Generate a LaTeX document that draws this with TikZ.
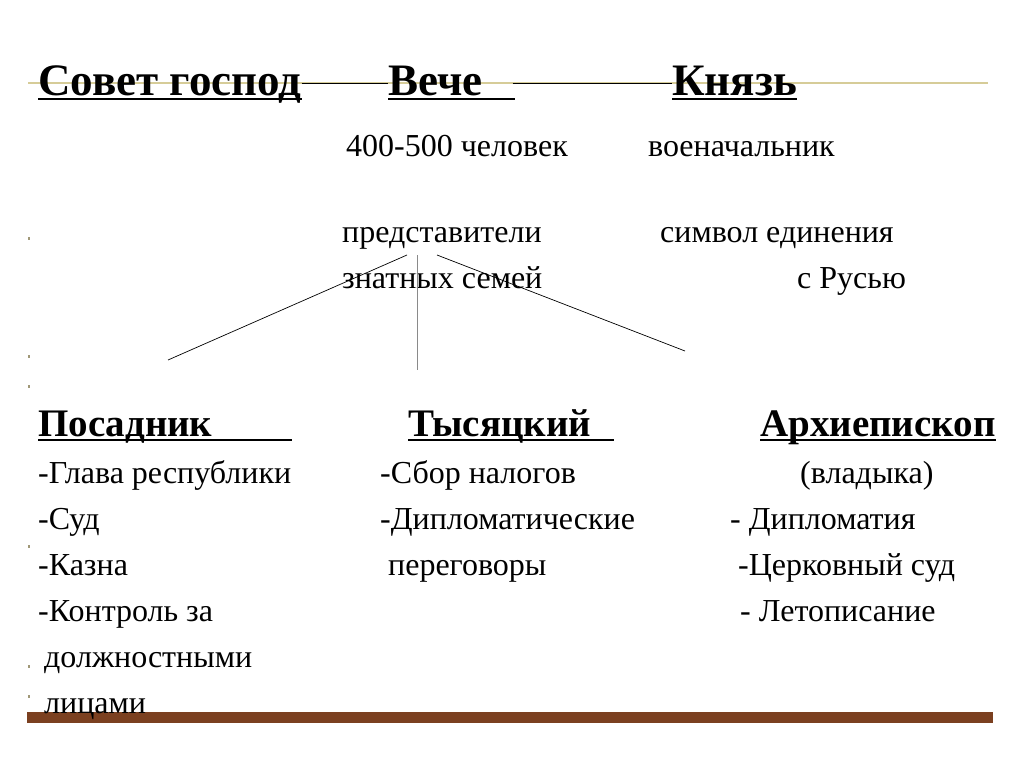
\documentclass[tikz,border=0pt]{standalone}
\usepackage{fontspec}
\setmainfont{Liberation Serif}
\usepackage{tikz}
\definecolor{barBrown}{HTML}{7B4020}
\definecolor{ruleKhaki}{HTML}{D6CC98}
\definecolor{dotGrey}{HTML}{A09878}
\definecolor{forkGrey}{HTML}{8A8A8A}
\tikzset{
  head/.style={anchor=base west,inner sep=0pt,font=\bfseries\fontsize{45}{49}\selectfont},
  subhead/.style={anchor=base west,inner sep=0pt,font=\bfseries\fontsize{39}{43}\selectfont},
  item/.style={anchor=base west,inner sep=0pt,font=\fontsize{32}{36}\selectfont},
  uline/.style={line width=1.6pt},
  link/.style={line width=0.9pt},
  fork/.style={line width=0.7pt}
}
\begin{document}
\begin{tikzpicture}[x=1pt,y=-1pt]
\useasboundingbox[fill=white] (0,0) rectangle (1024,767);
\draw[ruleKhaki,line width=1.2pt] (28,83) -- (988,83);
\fill[barBrown] (27,712) rectangle (993,723);
\foreach \y in {237,355,385,545,665,695} \fill[dotGrey] (28,\y) rectangle ++(2,3);

\node[head] (sovet) at (38,96) {Совет господ};
\node[head] (veche) at (388,96) {Вече};
\node[head] (knyaz) at (672,96) {Князь};
\draw[uline] ([yshift=-3pt]sovet.base west) -- ([yshift=-3pt]sovet.base east);
\draw[uline] ([yshift=-3pt]veche.base west) -- ++(127,0);
\draw[uline] ([yshift=-3pt]knyaz.base west) -- ([yshift=-3pt]knyaz.base east);
\draw[link] ([yshift=13pt]sovet.base east) -- ([yshift=13pt]veche.base west);
\draw[link] ([xshift=30pt,yshift=13pt]veche.base east) -- ([yshift=13pt]knyaz.base west);

\node[item] (people) at (346,157) {400-500 человек};
\node[item] (voevoda) at (648,157) {военачальник};
\node[item] (predst) at (342,243) {представители};
\node[item] (znat) at (342,288) {знатных семей};
\node[item] (symbol) at (660,243) {символ единения};
\node[item] (rus) at (797,288) {с Русью};

\coordinate (forkL) at (407,255);
\coordinate (forkM) at (417,255);
\coordinate (forkR) at (437,255);
\coordinate (endL) at (168,360);
\coordinate (endM) at (417,370);
\coordinate (endR) at (685,351);
\draw[fork] (forkL) -- (endL);
\draw[fork,forkGrey] (forkM) -- (endM);
\draw[fork] (forkR) -- (endR);

\node[subhead] (posad) at (38,436) {Посадник};
\node[subhead] (tys) at (408,436) {Тысяцкий};
\node[subhead] (arch) at (760,436) {Архиепископ};
\draw[uline] ([yshift=-4pt]posad.base west) -- ++(254,0);
\draw[uline] ([yshift=-4pt]tys.base west) -- ++(206,0);
\draw[uline] ([yshift=-4pt]arch.base west) -- ([yshift=-4pt]arch.base east);

\node[item] (p1) at (38,483) {-Глава республики};
\node[item] (p2) at (38,529) {-Суд};
\node[item] (p3) at (38,575) {-Казна};
\node[item] (p4) at (38,621) {-Контроль за};
\node[item] (p5) at (44,667) {должностными};
\node[item] (p6) at (44,713) {лицами};

\node[item] (t1) at (380,483) {-Сбор налогов};
\node[item] (t2) at (380,529) {-Дипломатические};
\node[item] (t3) at (388,575) {переговоры};

\node[item] (a1) at (800,483) {(владыка)};
\node[item] (a2) at (730,529) {- Дипломатия};
\node[item] (a3) at (738,575) {-Церковный суд};
\node[item] (a4) at (740,621) {- Летописание};
\end{tikzpicture}
\end{document}
